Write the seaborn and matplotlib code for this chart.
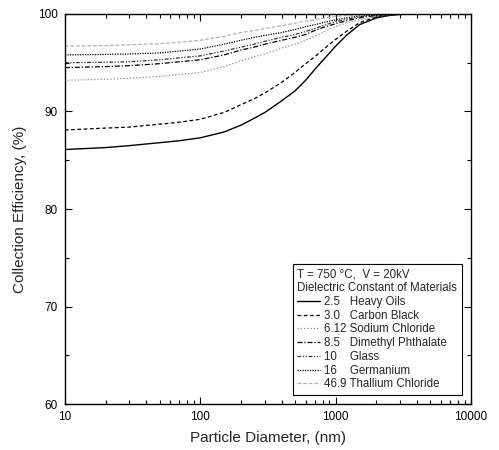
import numpy as np
import pandas as pd
import matplotlib
matplotlib.use("Agg")
import matplotlib.pyplot as plt
from matplotlib.ticker import MultipleLocator, LogLocator, NullFormatter
import seaborn as sns

diameter = [10, 20, 30, 50, 70, 100, 150, 200, 250, 300, 400, 500, 600, 700, 800,
            1000, 1200, 1500, 2000, 2500, 3000, 5000, 10000]

# collection efficiency (%) for each material
heavy_oils = [86.1, 86.3, 86.5, 86.8, 87.0, 87.3, 87.9, 88.6, 89.3, 89.9, 91.1, 92.1, 93.2, 94.3, 95.2,
              96.7, 97.8, 98.9, 99.6, 99.85, 99.95, 100, 100]
carbon_black = [88.1, 88.3, 88.4, 88.7, 88.9, 89.2, 89.9, 90.7, 91.3, 91.9, 93.0, 94.0, 94.9, 95.6, 96.3,
                97.4, 98.2, 99.1, 99.7, 99.9, 100, 100, 100]
sodium_chloride = [93.2, 93.3, 93.4, 93.6, 93.8, 94.0, 94.6, 95.2, 95.6, 95.9, 96.5, 96.9, 97.3, 97.7, 98.1,
                   98.7, 99.1, 99.4, 99.75, 99.9, 100, 100, 100]
dimethyl_phthalate = [94.5, 94.6, 94.7, 94.9, 95.1, 95.3, 95.8, 96.3, 96.6, 96.9, 97.3, 97.6, 97.9, 98.3, 98.6,
                      99.0, 99.3, 99.6, 99.85, 99.95, 100, 100, 100]
glass = [95.0, 95.05, 95.1, 95.3, 95.5, 95.7, 96.2, 96.6, 96.9, 97.2, 97.6, 97.9, 98.2, 98.5, 98.8,
         99.2, 99.45, 99.7, 99.9, 99.95, 100, 100, 100]
germanium = [95.8, 95.85, 95.9, 96.0, 96.2, 96.4, 96.9, 97.3, 97.6, 97.8, 98.1, 98.4, 98.7, 98.9, 99.1,
             99.4, 99.6, 99.8, 99.9, 99.95, 100, 100, 100]
thallium_chloride = [96.7, 96.75, 96.85, 96.95, 97.1, 97.3, 97.7, 98.1, 98.3, 98.5, 98.8, 99.05, 99.25, 99.4, 99.55,
                     99.75, 99.85, 99.9, 100, 100, 100, 100, 100]

# legend labels (number + name, padded with spaces so the names line up)
labels = ["2.5   Heavy Oils", "3.0   Carbon Black", "6.12 Sodium Chloride",
          "8.5   Dimethyl Phthalate", "10    Glass", "16    Germanium",
          "46.9 Thallium Chloride"]
series = [heavy_oils, carbon_black, sodium_chloride, dimethyl_phthalate,
          glass, germanium, thallium_chloride]

colors = ["black", "black", "#8a8a8a", "black", "#333333", "black", "#b0b0b0"]
dashes = [None, (3, 2), (1, 1.6), (4, 1.5, 1, 1.5), (3, 1.3, 1, 1.3, 1, 1.3), (1, 1), (3, 1.5)]
widths = [1.0, 0.9, 0.9, 0.9, 0.9, 0.9, 0.9]

sns.set_style("ticks")
plt.rcParams['font.family'] = ['Liberation Sans', 'DejaVu Sans']

fig = plt.figure(figsize=(4.99, 4.5), dpi=100)
ax = fig.add_axes([0.130, 0.102, 0.814, 0.867])

for lab, vals, c, d, w in zip(labels, series, colors, dashes, widths):
    df = pd.DataFrame({"d": diameter, "eff": vals})
    sns.lineplot(data=df, x="d", y="eff", ax=ax, color=c, lw=w, label=lab)
    if d is not None:
        ax.lines[-1].set_dashes(d)

ax.set_xscale("log")
ax.set_xlim(10, 10000)
ax.set_ylim(60, 100)
ax.yaxis.set_major_locator(MultipleLocator(10))
ax.yaxis.set_minor_locator(MultipleLocator(5))
ax.xaxis.set_minor_locator(LogLocator(base=10, subs=np.arange(2, 10)))
ax.xaxis.set_minor_formatter(NullFormatter())
ax.set_xticks([10, 100, 1000, 10000])
ax.set_xticklabels(["10", "100", "1000", "10000"])

ax.tick_params(which="both", direction="in", top=True, right=True, labelsize=8.5,
               width=0.8, colors="black", pad=5)
ax.tick_params(which="major", length=5)
ax.tick_params(which="minor", length=3)
for s in ax.spines.values():
    s.set_linewidth(1.0)
    s.set_color("black")

ax.set_xlabel("Particle Diameter, (nm)", fontsize=11, labelpad=6)
ax.set_ylabel("Collection Efficiency, (%)", fontsize=11, labelpad=8)

leg = ax.legend(loc="lower right", title="T = 750 \u00b0C,  V = 20kV\nDielectric Constant of Materials",
                fontsize=8.3, title_fontsize=8.3, alignment="left", fancybox=False,
                edgecolor="black", framealpha=1, handlelength=2.0, handletextpad=0.3,
                labelspacing=0.15, borderaxespad=0.8, borderpad=0.4)
leg.get_frame().set_linewidth(0.8)

fig.savefig("out.png", dpi=100)
